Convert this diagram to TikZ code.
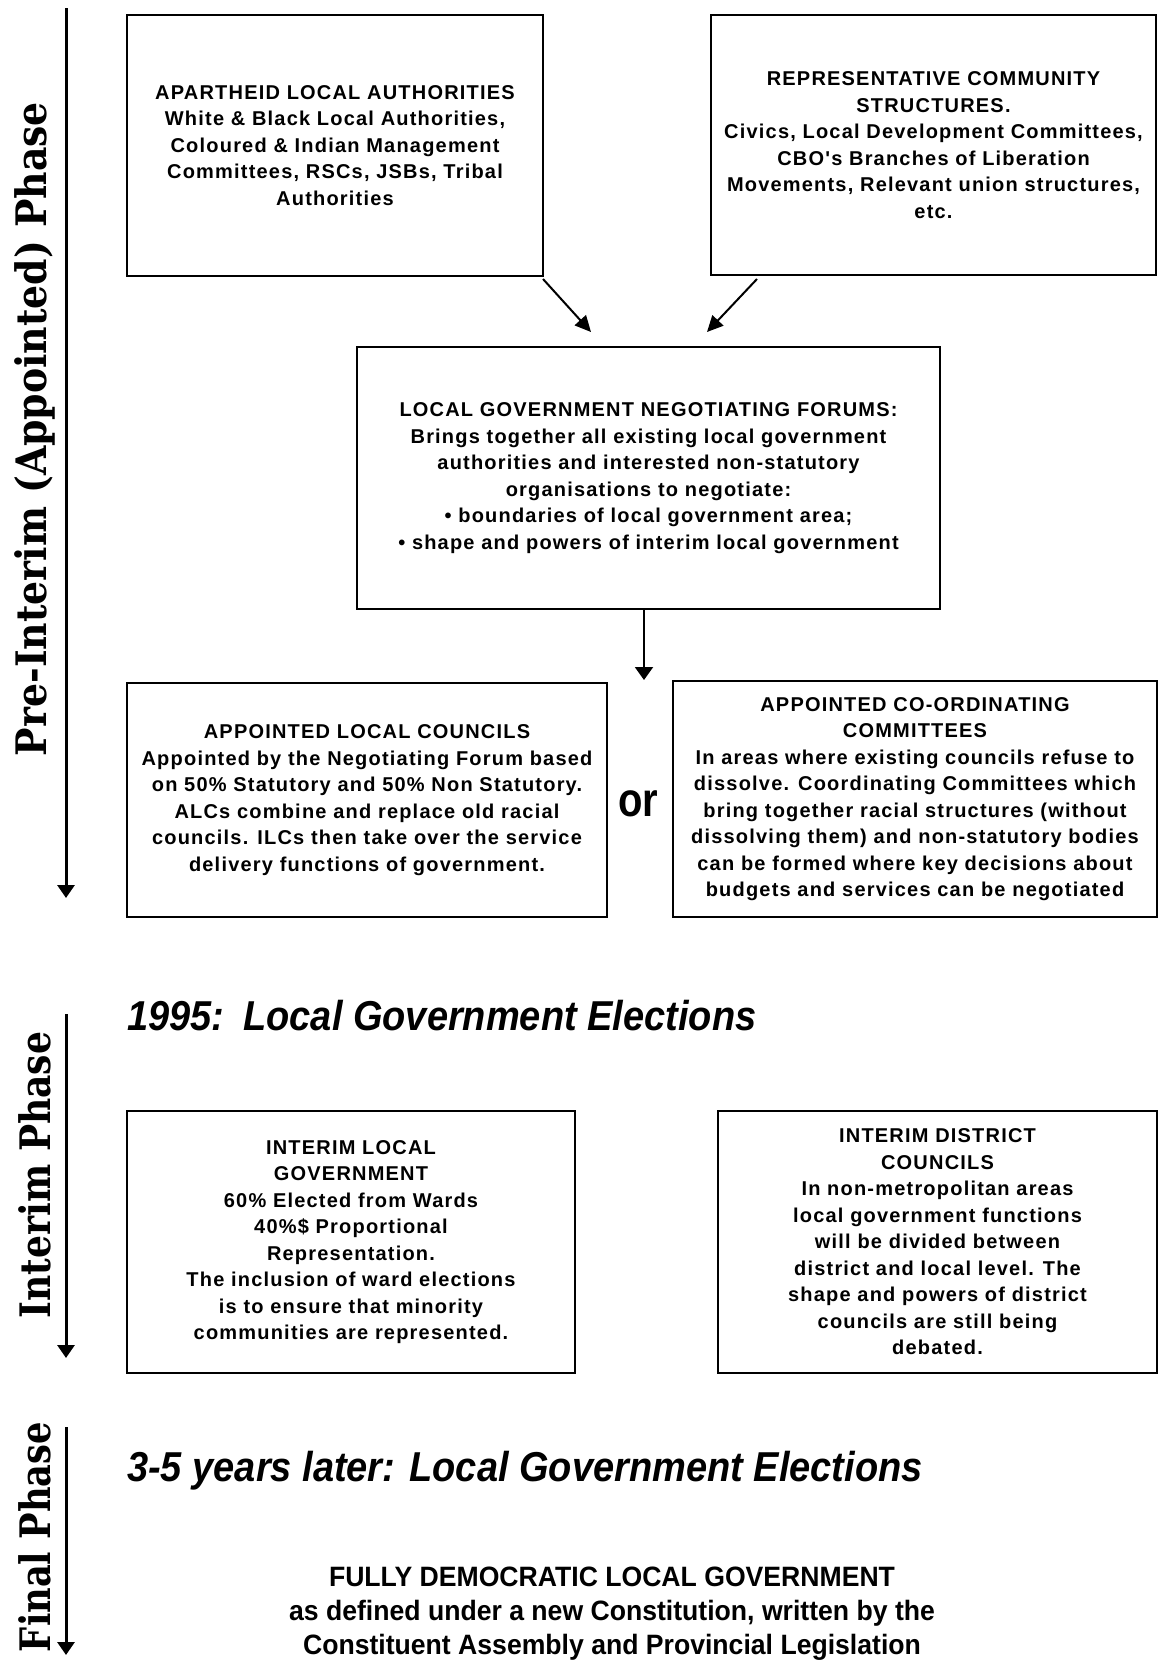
\documentclass[tikz,border=0pt]{standalone}
\usepackage{fontspec}
\setmainfont{Liberation Sans}
\newfontfamily\bxfont[LetterSpace=6]{Liberation Sans}
\newfontfamily\serfont{DejaVu Serif}
\usetikzlibrary{arrows.meta}
\begin{document}
\begin{tikzpicture}[x=1pt,y=-1pt,
  box/.style={draw, line width=2pt, align=center, inner sep=0pt,
    font=\bxfont\bfseries\fontsize{20}{26.5}\selectfont},
  arr/.style={line width=2pt, -{Triangle[length=16pt,width=15pt]}},
  darr/.style={line width=2pt, -{Triangle[length=13pt,width=18pt]}},
  axis/.style={line width=3pt, -{Triangle[length=13pt,width=17pt]}},
  lab/.style={rotate=90, inner sep=0pt, font=\serfont\bfseries\fontsize{42}{42}\selectfont},
  ttl/.style={anchor=west, inner sep=0pt, font=\bfseries\itshape\fontsize{38}{40}\selectfont},
]
\fill[white] (0,0) rectangle (1158,1660);
\useasboundingbox (0,0) rectangle (1158,1660);

% phase axes
\coordinate (ax1s) at (66,8);    \coordinate (ax1e) at (66,898);
\coordinate (ax2s) at (66,1014); \coordinate (ax2e) at (66,1358);
\coordinate (ax3s) at (66,1427); \coordinate (ax3e) at (66,1655);
\draw[axis] (ax1s) -- (ax1e);
\draw[axis] (ax2s) -- (ax2e);
\draw[axis] (ax3s) -- (ax3e);
\node[lab] (l1) at (35,429) {\scalebox{0.9}[1]{Pre-Interim (Appointed) Phase}};
\node[lab] (l2) at (35,1175) {\scalebox{0.86}[1]{Interim Phase}};
\node[lab] (l3) at (35,1537) {\scalebox{0.84}[1]{Final Phase}};

% boxes
\node[box, minimum width=416pt, minimum height=261pt] (b1) at (335,145.5)
 {APARTHEID LOCAL AUTHORITIES\\White \& Black Local Authorities,\\Coloured \& Indian Management\\Committees, RSCs, JSBs, Tribal\\Authorities};
\node[box, minimum width=445pt, minimum height=260pt] (b2) at (933.5,145)
 {REPRESENTATIVE COMMUNITY\\STRUCTURES.\\Civics, Local Development Committees,\\CBO's Branches of Liberation\\Movements, Relevant union structures,\\etc.};
\node[box, minimum width=583pt, minimum height=262pt] (b3) at (648.5,478)
 {LOCAL GOVERNMENT NEGOTIATING FORUMS:\\Brings together all existing local government\\authorities and interested non-statutory\\organisations to negotiate:\\\textbullet{} boundaries of local government area;\\\textbullet{} shape and powers of interim local government};
\node[box, minimum width=480pt, minimum height=234pt] (b4) at (367,800)
 {APPOINTED LOCAL COUNCILS\\Appointed by the Negotiating Forum based\\on 50\% Statutory and 50\% Non Statutory.\\ALCs combine and replace old racial\\councils. ILCs then take over the service\\delivery functions of government.};
\node[box, minimum width=484pt, minimum height=236pt] (b5) at (915,799)
 {APPOINTED CO-ORDINATING\\COMMITTEES\\In areas where existing councils refuse to\\dissolve. Coordinating Committees which\\bring together racial structures (without\\dissolving them) and non-statutory bodies\\can be formed where key decisions about\\budgets and services can be negotiated};
\node[font=\bfseries\fontsize{40}{40}\selectfont, inner sep=0pt] (or) at (638,804) {\scalebox{1}[1.2]{or}};

\node[box, minimum width=448pt, minimum height=262pt] (b6) at (351,1242)
 {INTERIM LOCAL\\GOVERNMENT\\60\% Elected from Wards\\40\%\$ Proportional\\Representation.\\The inclusion of ward elections\\is to ensure that minority\\communities are represented.};
\node[box, minimum width=439pt, minimum height=262pt] (b7) at (937.5,1242)
 {INTERIM DISTRICT\\COUNCILS\\In non-metropolitan areas\\local government functions\\will be divided between\\district and local level. The\\shape and powers of district\\councils are still being\\debated.};

% connectors
\coordinate (a1s) at (543,279); \coordinate (a1e) at (591,332);
\coordinate (a2s) at (757,279); \coordinate (a2e) at (707,332);
\coordinate (a3e) at (644,680);
\draw[arr] (a1s) -- (a1e);
\draw[arr] (a2s) -- (a2e);
\draw[darr] (b3.south -| a3e) -- (a3e);

% titles
\node[ttl] (t1) at (127,1016) {\scalebox{1}[1.1]{1995:\hspace{0.5em}Local Government Elections}};
\node[ttl] (t2) at (127,1471) {\scalebox{1}[1.1]{3-5 years later: Local Government Elections}};

\node[inner sep=0pt, font=\bfseries\fontsize{28}{34}\selectfont] (fin) at (612,1614)
 {\scalebox{0.95}[1]{\begin{tabular}{@{}c@{}}FULLY DEMOCRATIC LOCAL GOVERNMENT\\as defined under a new Constitution, written by the\\Constituent Assembly and Provincial Legislation\end{tabular}}};
\end{tikzpicture}
\end{document}
